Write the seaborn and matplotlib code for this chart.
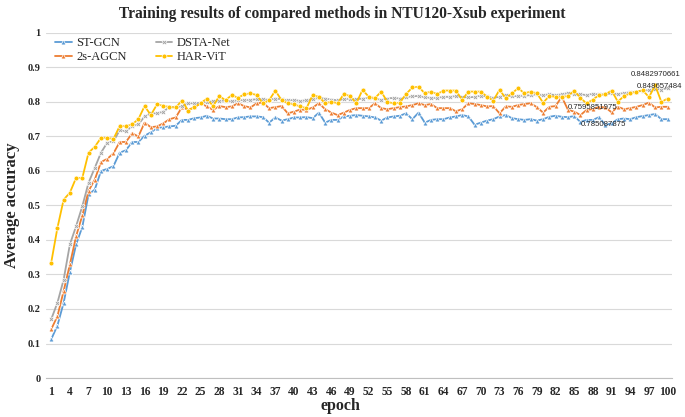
import numpy as np
import pandas as pd
import matplotlib
matplotlib.use("Agg")
import matplotlib.pyplot as plt
import seaborn as sns

epochs = list(range(1, 101))

st_gcn = [0.112, 0.152, 0.218, 0.307, 0.387, 0.438, 0.532, 0.546, 0.600, 0.606,
          0.614, 0.653, 0.660, 0.684, 0.684, 0.702, 0.712, 0.724, 0.727, 0.729,
          0.731, 0.748, 0.748, 0.753, 0.755, 0.760, 0.752, 0.752, 0.750, 0.750,
          0.755, 0.756, 0.758, 0.758, 0.756, 0.740, 0.755, 0.746, 0.750, 0.755,
          0.755, 0.756, 0.753, 0.769, 0.740, 0.748, 0.748, 0.758, 0.760, 0.762,
          0.760, 0.758, 0.755, 0.746, 0.755, 0.758, 0.760, 0.767, 0.750, 0.769,
          0.740, 0.748, 0.750, 0.750, 0.755, 0.758, 0.762, 0.758, 0.734, 0.740,
          0.746, 0.750, 0.758, 0.762, 0.753, 0.750, 0.748, 0.750, 0.746, 0.750,
          0.757, 0.760, 0.757, 0.756, 0.759, 0.742, 0.748, 0.748, 0.756, 0.733,
          0.738, 0.750, 0.752, 0.750, 0.756, 0.759, 0.762, 0.765, 0.750, 0.750]

agcn_2s = [0.141, 0.179, 0.252, 0.329, 0.411, 0.471, 0.542, 0.575, 0.626, 0.635,
           0.651, 0.684, 0.684, 0.709, 0.700, 0.740, 0.727, 0.729, 0.738, 0.750,
           0.755, 0.785, 0.777, 0.785, 0.796, 0.787, 0.777, 0.788, 0.785, 0.787,
           0.796, 0.788, 0.784, 0.796, 0.798, 0.782, 0.785, 0.788, 0.767, 0.772,
           0.778, 0.777, 0.784, 0.796, 0.779, 0.769, 0.762, 0.769, 0.777, 0.782,
           0.782, 0.782, 0.796, 0.782, 0.779, 0.782, 0.785, 0.787, 0.791, 0.796,
           0.791, 0.794, 0.782, 0.782, 0.782, 0.773, 0.779, 0.796, 0.794, 0.791,
           0.787, 0.788, 0.767, 0.787, 0.786, 0.791, 0.794, 0.796, 0.785, 0.769,
           0.786, 0.788, 0.815, 0.777, 0.772, 0.762, 0.777, 0.779, 0.786, 0.784,
           0.770, 0.786, 0.779, 0.782, 0.786, 0.791, 0.798, 0.784, 0.786, 0.786]

dsta_net = [0.170, 0.218, 0.285, 0.387, 0.440, 0.498, 0.566, 0.609, 0.653, 0.682,
            0.686, 0.718, 0.715, 0.730, 0.735, 0.758, 0.767, 0.767, 0.772, 0.785,
            0.785, 0.787, 0.796, 0.796, 0.798, 0.800, 0.802, 0.804, 0.804, 0.802,
            0.805, 0.806, 0.806, 0.808, 0.808, 0.806, 0.810, 0.808, 0.805, 0.806,
            0.803, 0.805, 0.808, 0.812, 0.810, 0.807, 0.805, 0.808, 0.810, 0.808,
            0.810, 0.812, 0.810, 0.806, 0.810, 0.812, 0.810, 0.814, 0.816, 0.818,
            0.813, 0.812, 0.812, 0.815, 0.815, 0.817, 0.814, 0.813, 0.815, 0.818,
            0.816, 0.812, 0.815, 0.820, 0.816, 0.818, 0.818, 0.820, 0.822, 0.820,
            0.822, 0.820, 0.822, 0.826, 0.824, 0.822, 0.820, 0.824, 0.822, 0.822,
            0.825, 0.823, 0.826, 0.828, 0.830, 0.832, 0.835, 0.838, 0.836, 0.840]

har_vit = [0.334, 0.435, 0.517, 0.537, 0.580, 0.580, 0.653, 0.670, 0.696, 0.696,
           0.693, 0.730, 0.730, 0.735, 0.750, 0.788, 0.762, 0.793, 0.789, 0.785,
           0.784, 0.804, 0.775, 0.785, 0.796, 0.810, 0.788, 0.817, 0.805, 0.820,
           0.812, 0.822, 0.825, 0.820, 0.796, 0.805, 0.833, 0.805, 0.796, 0.793,
           0.787, 0.782, 0.820, 0.815, 0.796, 0.801, 0.796, 0.823, 0.817, 0.796,
           0.835, 0.815, 0.811, 0.830, 0.800, 0.796, 0.798, 0.823, 0.842, 0.844,
           0.825, 0.830, 0.823, 0.833, 0.833, 0.833, 0.806, 0.830, 0.830, 0.830,
           0.815, 0.804, 0.835, 0.811, 0.825, 0.840, 0.825, 0.830, 0.825, 0.798,
           0.817, 0.815, 0.815, 0.817, 0.833, 0.811, 0.796, 0.807, 0.820, 0.822,
           0.833, 0.801, 0.817, 0.825, 0.830, 0.834, 0.814, 0.848, 0.800, 0.810]

methods = ["ST-GCN", "2s-AGCN", "DSTA-Net", "HAR-ViT"]
x_tick_labels = [str(e) for e in range(1, 101, 3)]
y_tick_labels = ["0", "0.1", "0.2", "0.3", "0.4", "0.5", "0.6", "0.7", "0.8", "0.9", "1"]

annotations = [("0.8482970661", 98.1, 0.881, "center"),
               ("0.848657484", 102.4, 0.846, "right"),
               ("0.7595851975", 88.0, 0.785, "center"),
               ("0.785087875", 89.7, 0.736, "center")]

df = pd.concat([
    pd.DataFrame({"epoch": epochs, "acc": vals, "method": m})
    for m, vals in zip(methods, [st_gcn, agcn_2s, dsta_net, har_vit])
])

sns.set_style("white")
plt.rcParams["font.family"] = ["Liberation Serif", "DejaVu Serif"]

fig = plt.figure(figsize=(6.85, 4.17), dpi=100)
ax = fig.add_axes([0.067, 0.0935, 0.914, 0.8275])

palette = {"ST-GCN": "#5B9BD5", "2s-AGCN": "#ED7D31", "DSTA-Net": "#A5A5A5", "HAR-ViT": "#FFC000"}
markers = {"ST-GCN": "^", "2s-AGCN": "^", "DSTA-Net": "X", "HAR-ViT": "o"}

sns.lineplot(data=df, x="epoch", y="acc", hue="method", style="method",
             hue_order=methods, style_order=methods,
             palette=palette, markers=markers, dashes=False,
             linewidth=1.3, markersize=3.5, markeredgewidth=0.5, ax=ax)

ax.set_xlim(0.15, 100.7)
ax.set_ylim(0, 1)
ax.set_yticks(np.arange(0, 1.01, 0.1))
ax.set_yticklabels(y_tick_labels, fontsize=7.5, fontweight="bold")
ax.set_xticks(list(range(1, 101, 3)))
ax.set_xticklabels(x_tick_labels, fontsize=8.3, fontweight="bold")
ax.grid(axis="y", color="#d9d9d9", linewidth=0.8)
ax.set_axisbelow(True)
for s in ["top", "right", "left"]:
    ax.spines[s].set_visible(False)
ax.spines["bottom"].set_color("#bfbfbf")
ax.spines["bottom"].set_linewidth(0.8)
ax.tick_params(axis="x", which="major", length=4, color="#bfbfbf", pad=1.5)
ax.tick_params(axis="y", length=0, pad=4)

ax.set_xlabel("epoch", fontsize=11.5, fontweight="bold", labelpad=0)
ax.xaxis.label.set_x(0.47)
ax.set_ylabel("Average accuracy", fontsize=12, fontweight="bold", labelpad=5)
fig.suptitle("Training results of compared methods in NTU120-Xsub experiment",
             fontsize=11.2, fontweight="bold", y=0.985)

for txt, xv, yv, ha in annotations:
    ax.text(xv, yv, txt, fontsize=5.6, ha=ha, va="center",
            family=["Liberation Sans", "DejaVu Sans"], clip_on=False)

leg = ax.legend(loc="upper left", ncol=2, frameon=False, fontsize=9,
                bbox_to_anchor=(0.005, 1.005), handlelength=1.3, columnspacing=2.3,
                handletextpad=0.4, labelspacing=0.15, borderaxespad=0.1)

fig.savefig("out.png", dpi=100)
